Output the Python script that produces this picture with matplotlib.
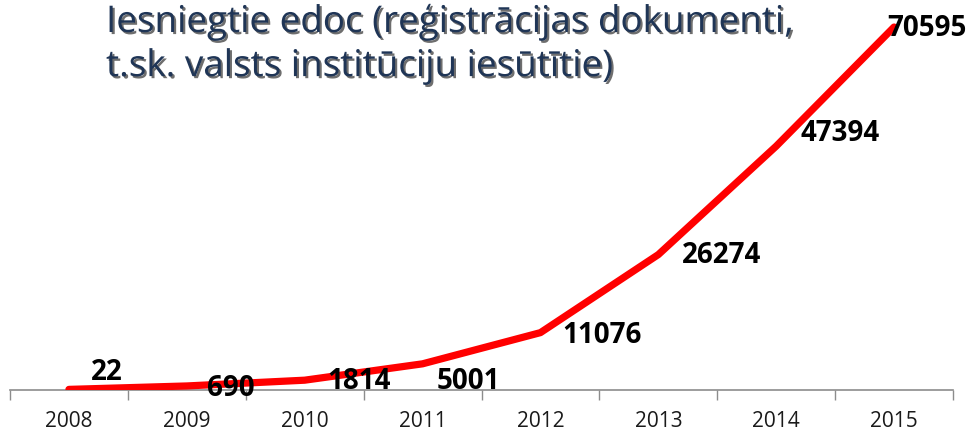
import matplotlib.pyplot as plt
import matplotlib.patheffects as pe
import numpy as np

years = ["2008", "2009", "2010", "2011", "2012", "2013", "2014", "2015"]
values = [22, 690, 1814, 5001, 11076, 26274, 47394, 70595]
# label offsets in pixels (left edge dx, centre dy) relative to each point
label_dx = [22, 20, 23, 14, 22, 24, 24, -7]
label_dy = [18, -2, 0, -17, -2, 0, 14, 0]

plt.rcParams['font.family'] = ['Open Sans', 'DejaVu Sans']

fig = plt.figure(figsize=(9.75, 4.35), dpi=100)
ax = fig.add_axes([10 / 975, 44.5 / 435, 943 / 975, 390.5 / 435])

x = np.arange(len(years))
ax.plot(x, values, color='#FF0000', linewidth=5.2, solid_capstyle='round', zorder=3)

for xi, v, dx, dy in zip(x, values, label_dx, label_dy):
    ax.annotate(str(v), (xi, v), xytext=(dx * 0.72, dy * 0.72), textcoords='offset points',
                ha='left', va='center', fontsize=20, fontweight='bold',
                color='black', zorder=4, annotation_clip=False)

ax.set_xlim(-0.5, len(years) - 0.5)
ax.set_ylim(0, 70595 * 390 / 362)

ax.set_xticks(x)
ax.set_xticklabels(years, fontsize=15, color='#1A1A1A')
ax.set_xticks(np.arange(-0.5, len(years), 1), minor=True)
ax.tick_params(axis='x', which='major', length=0, pad=15)
ax.tick_params(axis='x', which='minor', length=7, width=1, color='#8C8C8C', direction='out')
ax.set_yticks([])

for s in ['top', 'right', 'left']:
    ax.spines[s].set_visible(False)
ax.spines['bottom'].set_color('#8C8C8C')
ax.spines['bottom'].set_linewidth(1.2)
ax.patch.set_visible(False)

title = "Iesniegtie edoc (reģistrācijas dokumenti,\nt.sk. valsts institūciju iesūtītie)"
fig.text(106 / 975, 1 - 5 / 435, title, ha='left', va='top', fontsize=26.5,
         color='#1F3556', linespacing=1.3,
         path_effects=[pe.withSimplePatchShadow(offset=(1.5, -1.5), shadow_rgbFace='#303030', alpha=0.7)])

fig.savefig('out.png', dpi=100)
